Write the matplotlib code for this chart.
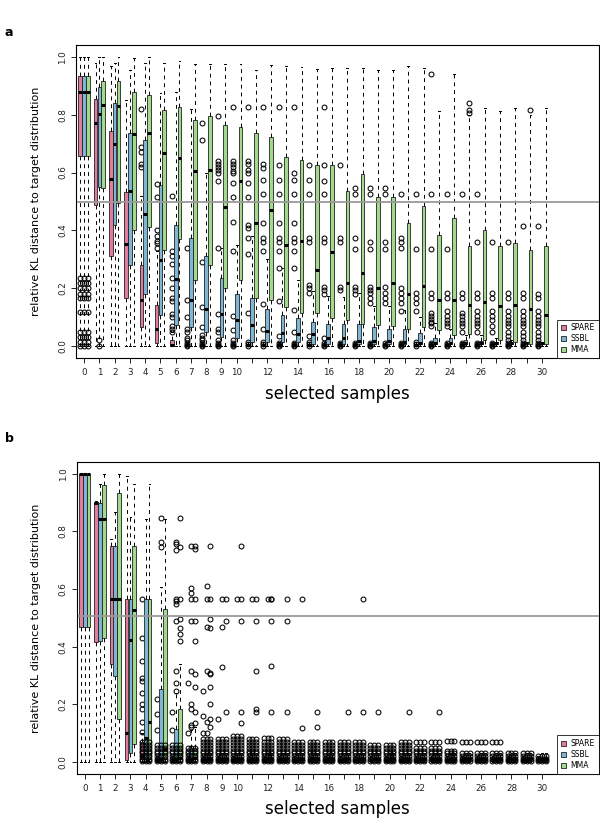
import numpy as np
import matplotlib.pyplot as plt
from matplotlib.patches import Patch

# x categories (number of selected samples) and methods
groups = list(range(31))
methods = ["SPARE", "SSBL", "MMA"]
colors = ["#E27C9C", "#7FB6D5", "#A3D98C"]
xlabels = ["0", "1", "2", "3", "4", "5", "6", "7", "8", "9", "10", "", "12", "", "14", "", "16", "",
           "18", "", "20", "", "22", "", "24", "", "26", "", "28", "", "30"]
ylabels = ["0.0", "0.2", "0.4", "0.6", "0.8", "1.0"]

# ---------------- panel a ----------------
a_spare_q1 = [0.657, 0.488, 0.313, 0.165, 0.065, 0.012, 0.0, 0.0, 0.0, 0.0, 0.0, 0.0, 0.0, 0.0, 0.0, 0.0,
              0.0, 0.0, 0.0, 0.0, 0.0, 0.0, 0.0, 0.0, 0.0, 0.0, 0.0, 0.0, 0.0, 0.0, 0.0]
a_spare_med = [0.877, 0.772, 0.578, 0.352, 0.161, 0.058, 0.005, 0.003, 0.003, 0.003, 0.003, 0.003, 0.003,
               0.003, 0.003, 0.003, 0.003, 0.003, 0.003, 0.003, 0.003, 0.003, 0.003, 0.003, 0.003, 0.003,
               0.003, 0.003, 0.003, 0.003, 0.003]
a_spare_q3 = [0.934, 0.854, 0.744, 0.534, 0.28, 0.142, 0.02, 0.008, 0.008, 0.008, 0.008, 0.008, 0.008,
              0.008, 0.008, 0.008, 0.008, 0.008, 0.008, 0.008, 0.008, 0.008, 0.008, 0.008, 0.008, 0.008,
              0.008, 0.008, 0.008, 0.008, 0.008]
a_spare_hi = [1.0, 0.978, 0.97, 0.85, 0.52, 0.33, 0.05, 0.015, 0.015, 0.015, 0.015, 0.015, 0.015, 0.015,
              0.015, 0.015, 0.015, 0.015, 0.015, 0.015, 0.015, 0.015, 0.015, 0.015, 0.015, 0.015, 0.015,
              0.015, 0.015, 0.015, 0.015]

a_ssbl_q1 = [0.657, 0.551, 0.419, 0.28, 0.182, 0.107, 0.073, 0.067, 0.05, 0.032, 0.027, 0.015, 0.015,
             0.015, 0.015, 0.009, 0.009, 0.009, 0.009, 0.009, 0.009, 0.009, 0.009, 0.009, 0.009, 0.009,
             0.009, 0.009, 0.009, 0.009, 0.009]
a_ssbl_med = [0.877, 0.802, 0.699, 0.536, 0.456, 0.298, 0.232, 0.161, 0.13, 0.11, 0.09, 0.073, 0.052,
              0.044, 0.042, 0.042, 0.029, 0.027, 0.018, 0.018, 0.018, 0.015, 0.012, 0.012, 0.012, 0.011,
              0.011, 0.01, 0.01, 0.01, 0.01]
a_ssbl_q3 = [0.934, 0.897, 0.84, 0.736, 0.713, 0.557, 0.419, 0.373, 0.31, 0.234, 0.182, 0.165, 0.13,
             0.107, 0.096, 0.084, 0.078, 0.075, 0.075, 0.065, 0.061, 0.058, 0.046, 0.03, 0.03, 0.02,
             0.018, 0.015, 0.012, 0.011, 0.011]
a_ssbl_hi = [1.0, 1.0, 0.98, 0.955, 0.98, 0.874, 0.88, 0.82, 0.6, 0.34, 0.35, 0.38, 0.3, 0.27, 0.23,
             0.19, 0.175, 0.17, 0.185, 0.14, 0.14, 0.125, 0.1, 0.08, 0.06, 0.04, 0.04, 0.03, 0.02, 0.015,
             0.015]

a_mma_q1 = [0.657, 0.546, 0.496, 0.401, 0.413, 0.332, 0.372, 0.228, 0.28, 0.2, 0.228, 0.165, 0.161,
            0.136, 0.115, 0.115, 0.099, 0.092, 0.076, 0.074, 0.069, 0.061, 0.065, 0.055, 0.038, 0.042,
            0.021, 0.023, 0.015, 0.009, 0.009]
a_mma_med = [0.877, 0.835, 0.829, 0.734, 0.736, 0.669, 0.649, 0.606, 0.609, 0.482, 0.571, 0.424, 0.471,
             0.35, 0.364, 0.265, 0.326, 0.217, 0.254, 0.2, 0.217, 0.182, 0.208, 0.159, 0.159, 0.144,
             0.153, 0.138, 0.142, 0.13, 0.107]
a_mma_q3 = [0.934, 0.915, 0.915, 0.877, 0.869, 0.817, 0.825, 0.782, 0.796, 0.765, 0.759, 0.736, 0.722,
            0.653, 0.644, 0.627, 0.627, 0.536, 0.595, 0.514, 0.514, 0.424, 0.484, 0.384, 0.442, 0.347,
            0.401, 0.347, 0.355, 0.332, 0.347]
a_mma_hi = [1.0, 1.0, 1.0, 0.995, 1.0, 0.98, 0.987, 0.975, 0.975, 0.975, 0.975, 0.955, 0.972, 0.97,
            0.965, 0.957, 0.96, 0.96, 0.96, 0.955, 0.955, 0.967, 0.96, 0.814, 0.94, 0.8, 0.822, 0.814,
            0.822, 0.8, 0.822]

a_start_out = [0.234, 0.217, 0.2, 0.182, 0.165, 0.119, 0.05, 0.032, 0.015, 0.0]
a_spare_out = {
    0: a_start_out,
    4: [0.82, 0.69, 0.67, 0.63, 0.62],
    5: [0.56, 0.515, 0.40, 0.38, 0.365, 0.355, 0.34],
    6: [0.52, 0.33, 0.31, 0.283, 0.234, 0.2, 0.165, 0.155, 0.11, 0.1, 0.07, 0.06, 0.05],
    7: [0.338, 0.16, 0.1, 0.06, 0.05, 0.03, 0.02, 0.01, 0.005, 0.0],
    8: [0.773, 0.713, 0.29, 0.135, 0.065, 0.04, 0.03, 0.02, 0.01, 0.005, 0.0],
    9: [0.795, 0.64, 0.63, 0.62, 0.61, 0.60, 0.57, 0.34, 0.11, 0.06, 0.05, 0.02, 0.01, 0.005, 0.0],
    10: [0.825, 0.64, 0.63, 0.62, 0.605, 0.60, 0.565, 0.515, 0.43, 0.33, 0.105, 0.055, 0.02, 0.01, 0.005, 0.0],
    11: [0.825, 0.64, 0.63, 0.61, 0.6, 0.565, 0.515, 0.42, 0.41, 0.375, 0.32, 0.115, 0.015, 0.007, 0.0],
    12: [0.825, 0.63, 0.615, 0.575, 0.525, 0.425, 0.375, 0.36, 0.33, 0.145, 0.06, 0.015, 0.008, 0.0],
    13: [0.825, 0.625, 0.575, 0.525, 0.425, 0.375, 0.36, 0.33, 0.27, 0.155, 0.035, 0.01, 0.005, 0.0],
    14: [0.825, 0.6, 0.575, 0.525, 0.425, 0.375, 0.36, 0.33, 0.27, 0.125, 0.05, 0.01, 0.005, 0.0],
    15: [0.625, 0.575, 0.525, 0.375, 0.36, 0.21, 0.2, 0.185, 0.035, 0.015, 0.007, 0.0],
    16: [0.825, 0.625, 0.571, 0.525, 0.375, 0.36, 0.205, 0.195, 0.18, 0.03, 0.01, 0.005, 0.0],
    17: [0.625, 0.375, 0.36, 0.205, 0.195, 0.01, 0.005, 0.0],
    18: [0.546, 0.525, 0.375, 0.335, 0.205, 0.195, 0.18, 0.01, 0.005, 0.0],
    19: [0.545, 0.525, 0.36, 0.335, 0.205, 0.195, 0.185, 0.165, 0.15, 0.01, 0.005, 0.0],
    20: [0.545, 0.525, 0.36, 0.335, 0.205, 0.185, 0.165, 0.15, 0.01, 0.005, 0.0],
    21: [0.525, 0.375, 0.36, 0.34, 0.2, 0.185, 0.165, 0.15, 0.12, 0.01, 0.005, 0.0],
    22: [0.525, 0.335, 0.185, 0.165, 0.15, 0.12, 0.015, 0.007, 0.0],
    23: [0.941, 0.525, 0.335, 0.185, 0.165, 0.115, 0.105, 0.095, 0.085, 0.08, 0.07, 0.01, 0.005, 0.0],
    24: [0.525, 0.335, 0.185, 0.165, 0.12, 0.105, 0.09, 0.08, 0.07, 0.01, 0.005, 0.0],
    25: [0.525, 0.185, 0.165, 0.115, 0.105, 0.09, 0.08, 0.07, 0.05, 0.01, 0.005, 0.0],
    26: [0.525, 0.36, 0.185, 0.165, 0.12, 0.105, 0.09, 0.08, 0.07, 0.05, 0.01, 0.005, 0.0],
    27: [0.36, 0.185, 0.165, 0.12, 0.105, 0.09, 0.07, 0.05, 0.01, 0.005, 0.0],
    28: [0.36, 0.185, 0.165, 0.12, 0.105, 0.09, 0.08, 0.07, 0.05, 0.035, 0.02, 0.01, 0.005, 0.0],
    29: [0.415, 0.185, 0.165, 0.12, 0.105, 0.09, 0.08, 0.07, 0.05, 0.035, 0.02, 0.01, 0.005, 0.0],
    30: [0.415, 0.18, 0.165, 0.12, 0.105, 0.09, 0.08, 0.07, 0.05, 0.035, 0.02, 0.01, 0.005, 0.0],
}
a_ssbl_out = {0: a_start_out, 1: [0.02, 0.0]}
a_mma_out = {0: a_start_out, 25: [0.84, 0.815, 0.805], 29: [0.815]}

# ---------------- panel b ----------------
b_spare_q1 = [0.47, 0.416, 0.341, 0.008, 0.01, 0.005, 0.005, 0.005, 0.005, 0.005, 0.005, 0.005, 0.005,
              0.005, 0.005, 0.005, 0.005, 0.005, 0.005, 0.005, 0.005, 0.005, 0.005, 0.005, 0.005, 0.005,
              0.005, 0.005, 0.005, 0.005, 0.005]
b_spare_med = [1.0, 0.9, 0.567, 0.099, 0.02, 0.008, 0.008, 0.008, 0.008, 0.008, 0.008, 0.008, 0.008,
               0.008, 0.008, 0.008, 0.008, 0.008, 0.008, 0.008, 0.008, 0.008, 0.008, 0.008, 0.008, 0.008,
               0.008, 0.008, 0.008, 0.008, 0.008]
b_spare_q3 = [1.0, 0.903, 0.75, 0.566, 0.07, 0.012, 0.012, 0.012, 0.012, 0.012, 0.012, 0.012, 0.012,
              0.012, 0.012, 0.012, 0.012, 0.012, 0.012, 0.012, 0.012, 0.012, 0.012, 0.012, 0.012, 0.012,
              0.012, 0.012, 0.012, 0.012, 0.012]
b_spare_hi = [1.0, 0.905, 0.775, 0.993, 0.1, 0.02, 0.02, 0.02, 0.02, 0.02, 0.02, 0.02, 0.02, 0.02, 0.02,
              0.02, 0.02, 0.02, 0.02, 0.02, 0.02, 0.02, 0.02, 0.02, 0.02, 0.02, 0.02, 0.02, 0.02, 0.02,
              0.02]

b_ssbl_q1 = [0.47, 0.42, 0.298, 0.033, 0.01, 0.01, 0.01, 0.01, 0.008, 0.008, 0.008, 0.008, 0.008, 0.008,
             0.008, 0.008, 0.008, 0.008, 0.008, 0.008, 0.008, 0.008, 0.008, 0.008, 0.008, 0.008, 0.008,
             0.008, 0.008, 0.008, 0.008]
b_ssbl_med = [1.0, 0.844, 0.567, 0.424, 0.085, 0.012, 0.012, 0.012, 0.01, 0.01, 0.01, 0.01, 0.01, 0.01,
              0.01, 0.01, 0.01, 0.01, 0.01, 0.01, 0.01, 0.01, 0.01, 0.01, 0.01, 0.01, 0.01, 0.01, 0.01,
              0.01, 0.01]
b_ssbl_q3 = [1.0, 0.9, 0.75, 0.566, 0.566, 0.252, 0.114, 0.05, 0.015, 0.015, 0.015, 0.015, 0.015, 0.015,
             0.015, 0.015, 0.015, 0.015, 0.015, 0.015, 0.015, 0.015, 0.015, 0.015, 0.015, 0.015, 0.015,
             0.015, 0.015, 0.015, 0.015]
b_ssbl_hi = [1.0, 0.964, 0.867, 0.85, 0.844, 0.608, 0.24, 0.11, 0.03, 0.03, 0.03, 0.03, 0.03, 0.03, 0.03,
             0.03, 0.03, 0.03, 0.03, 0.03, 0.03, 0.03, 0.03, 0.03, 0.03, 0.03, 0.03, 0.03, 0.03, 0.03,
             0.03]

b_mma_q1 = [0.47, 0.43, 0.148, 0.062, 0.01, 0.01, 0.01, 0.01, 0.008, 0.008, 0.008, 0.008, 0.008, 0.008,
            0.008, 0.008, 0.008, 0.008, 0.008, 0.008, 0.008, 0.008, 0.008, 0.008, 0.008, 0.008, 0.008,
            0.008, 0.008, 0.008, 0.008]
b_mma_med = [1.0, 0.844, 0.567, 0.528, 0.139, 0.045, 0.015, 0.015, 0.01, 0.01, 0.01, 0.01, 0.01, 0.01,
             0.01, 0.01, 0.01, 0.01, 0.01, 0.01, 0.01, 0.01, 0.01, 0.01, 0.01, 0.01, 0.01, 0.01, 0.01,
             0.01, 0.01]
b_mma_q3 = [1.0, 0.96, 0.935, 0.75, 0.566, 0.531, 0.183, 0.05, 0.015, 0.015, 0.015, 0.015, 0.015, 0.015,
            0.015, 0.015, 0.015, 0.015, 0.015, 0.015, 0.015, 0.015, 0.015, 0.015, 0.015, 0.015, 0.015,
            0.015, 0.015, 0.015, 0.015]
b_mma_hi = [1.0, 1.0, 1.0, 0.964, 0.964, 0.844, 0.34, 0.12, 0.03, 0.03, 0.03, 0.03, 0.03, 0.03, 0.03,
            0.03, 0.03, 0.03, 0.03, 0.03, 0.03, 0.03, 0.03, 0.03, 0.03, 0.03, 0.03, 0.03, 0.03, 0.03,
            0.03]

# dense near-zero outliers shared by all three methods in panel b
b_cluster = {
    4: [0.005, 0.01, 0.02, 0.03, 0.04, 0.05, 0.06, 0.07],
    5: [0.005, 0.01, 0.02, 0.03, 0.04, 0.05, 0.06],
    6: [0.005, 0.01, 0.02, 0.03, 0.04, 0.05, 0.06],
    7: [0.005, 0.01, 0.02, 0.03, 0.04, 0.05],
    8: [0.005, 0.01, 0.02, 0.03, 0.04, 0.05, 0.06, 0.07, 0.08],
    9: [0.005, 0.01, 0.02, 0.03, 0.04, 0.05, 0.06, 0.07, 0.08],
    10: [0.005, 0.01, 0.02, 0.03, 0.04, 0.05, 0.06, 0.07, 0.08, 0.09],
    11: [0.005, 0.01, 0.02, 0.03, 0.04, 0.05, 0.06, 0.07, 0.08],
    12: [0.005, 0.01, 0.02, 0.03, 0.04, 0.05, 0.06, 0.07, 0.085],
    13: [0.005, 0.01, 0.02, 0.03, 0.04, 0.05, 0.06, 0.07, 0.08],
    14: [0.005, 0.01, 0.02, 0.03, 0.04, 0.05, 0.06, 0.07],
    15: [0.005, 0.01, 0.02, 0.03, 0.04, 0.05, 0.06, 0.07],
    16: [0.005, 0.01, 0.02, 0.03, 0.04, 0.05, 0.06, 0.07],
    17: [0.005, 0.01, 0.02, 0.03, 0.04, 0.05, 0.06, 0.07],
    18: [0.005, 0.01, 0.02, 0.03, 0.04, 0.05, 0.06, 0.07],
    19: [0.005, 0.01, 0.02, 0.03, 0.04, 0.05, 0.06],
    20: [0.005, 0.01, 0.02, 0.03, 0.04, 0.05, 0.06],
    21: [0.005, 0.01, 0.02, 0.03, 0.04, 0.05, 0.06, 0.07],
    22: [0.005, 0.01, 0.02, 0.03, 0.04, 0.05, 0.068],
    23: [0.005, 0.01, 0.02, 0.03, 0.04, 0.05, 0.068],
    24: [0.005, 0.01, 0.02, 0.03, 0.04, 0.074],
    25: [0.005, 0.01, 0.02, 0.03, 0.07],
    26: [0.005, 0.01, 0.02, 0.033, 0.07],
    27: [0.005, 0.01, 0.02, 0.03, 0.07],
    28: [0.005, 0.01, 0.02, 0.03],
    29: [0.005, 0.01, 0.02, 0.033],
    30: [0.005, 0.01, 0.02],
}
b_spare_out = {
    4: [0.565, 0.43, 0.35, 0.29, 0.28, 0.24, 0.2, 0.185, 0.14, 0.105],
    5: [0.22, 0.165, 0.11],
    6: [0.175, 0.11],
    7: [0.275, 0.1],
    8: [0.245, 0.16, 0.1],
    9: [0.15],
}
b_ssbl_out = {
    5: [0.845, 0.765, 0.745],
    6: [0.765, 0.755, 0.735, 0.565, 0.56, 0.55, 0.49, 0.315, 0.275, 0.245],
    7: [0.75, 0.605, 0.585, 0.565, 0.49, 0.315, 0.2, 0.185, 0.13, 0.12],
    8: [0.61, 0.565, 0.47, 0.315, 0.14, 0.1],
    9: [0.565, 0.47, 0.33],
    10: [0.565],
    11: [0.565],
    12: [0.565],
}
b_mma_out = {
    6: [0.845, 0.745, 0.565, 0.495, 0.465, 0.445, 0.42],
    7: [0.75, 0.74, 0.565, 0.49, 0.42, 0.305, 0.26, 0.175, 0.135],
    8: [0.75, 0.565, 0.495, 0.465, 0.31, 0.305, 0.26, 0.2, 0.15, 0.12],
    9: [0.565, 0.49, 0.175],
    10: [0.75, 0.565, 0.49, 0.175, 0.135],
    11: [0.565, 0.49, 0.315, 0.183, 0.175],
    12: [0.565, 0.565, 0.49, 0.334, 0.175],
    13: [0.565, 0.49, 0.175],
    14: [0.565, 0.117],
    15: [0.175, 0.12],
    17: [0.175],
    18: [0.565, 0.175],
    19: [0.175],
    21: [0.175],
    23: [0.175],
}

panel_a = [
    (a_spare_q1, a_spare_med, a_spare_q3, a_spare_hi, a_spare_out),
    (a_ssbl_q1, a_ssbl_med, a_ssbl_q3, a_ssbl_hi, a_ssbl_out),
    (a_mma_q1, a_mma_med, a_mma_q3, a_mma_hi, a_mma_out),
]
panel_b = [
    (b_spare_q1, b_spare_med, b_spare_q3, b_spare_hi, b_spare_out),
    (b_ssbl_q1, b_ssbl_med, b_ssbl_q3, b_ssbl_hi, b_ssbl_out),
    (b_mma_q1, b_mma_med, b_mma_q3, b_mma_hi, b_mma_out),
]

offsets = [-0.25, 0.0, 0.25]


def draw_panel(ax, series, cluster, hline):
    for k, (q1, med, q3, hi, outs) in enumerate(series):
        stats = []
        for g in groups:
            fl = list(outs.get(g, [])) + list(cluster.get(g, []))
            stats.append(dict(q1=q1[g], med=med[g], q3=q3[g], whislo=0.0, whishi=hi[g], fliers=fl))
        ax.bxp(stats, positions=np.array(groups) + offsets[k], widths=0.24,
               patch_artist=True, manage_ticks=False, capwidths=0.12,
               boxprops=dict(facecolor=colors[k], edgecolor="#222222", linewidth=0.6),
               medianprops=dict(color="black", linewidth=2.2, solid_capstyle="butt"),
               whiskerprops=dict(color="black", linewidth=0.7, linestyle=(0, (4, 4))),
               capprops=dict(color="black", linewidth=0.7),
               flierprops=dict(marker="o", markersize=3.5, markerfacecolor="none",
                               markeredgecolor="black", markeredgewidth=0.75))
    ax.axhline(hline, color="#9a9a9a", linewidth=1.3)
    ax.set_xlim(-0.52, 33.73)
    ax.set_ylim(-0.041, 1.041)
    ax.set_xticks(groups)
    ax.set_xticklabels(xlabels, fontsize=6.3, color="#222222")
    ax.set_yticks([0, 0.2, 0.4, 0.6, 0.8, 1.0])
    ax.set_yticklabels(ylabels, fontsize=6.3, rotation=90, va="center", color="#222222")
    ax.tick_params(axis="x", length=3.6, width=0.6, pad=3.5)
    ax.tick_params(axis="y", length=3.6, width=0.6, pad=3)
    for s in ax.spines.values():
        s.set_linewidth(0.8)
    ax.set_ylabel("relative KL distance to target distribution", fontsize=8)
    ax.yaxis.set_label_coords(-0.068, 0.5)
    ax.set_xlabel("selected samples", fontsize=12)
    ax.xaxis.set_label_coords(0.5, -0.085)
    handles = [Patch(facecolor=c, edgecolor="#222222", linewidth=0.6) for c in colors]
    leg = ax.legend(handles, methods, loc="lower right", fontsize=5.5, frameon=True,
                    fancybox=False, borderaxespad=0, handlelength=0.7, handleheight=0.7,
                    handletextpad=0.6, labelspacing=0.25, borderpad=0.5)
    leg.get_frame().set_edgecolor("black")
    leg.get_frame().set_linewidth(0.7)


fig = plt.figure(figsize=(6, 8.25), dpi=100)
ax_a = fig.add_axes([0.127, 0.566, 0.871, 0.3795])
ax_b = fig.add_axes([0.128, 0.062, 0.870, 0.378])

draw_panel(ax_a, panel_a, {}, 0.5)
draw_panel(ax_b, panel_b, b_cluster, 0.507)

fig.text(0.008, 0.96, "a", fontsize=9, fontweight="bold", va="center")
fig.text(0.008, 0.469, "b", fontsize=9, fontweight="bold", va="center")

fig.savefig("out.png", dpi=100)
